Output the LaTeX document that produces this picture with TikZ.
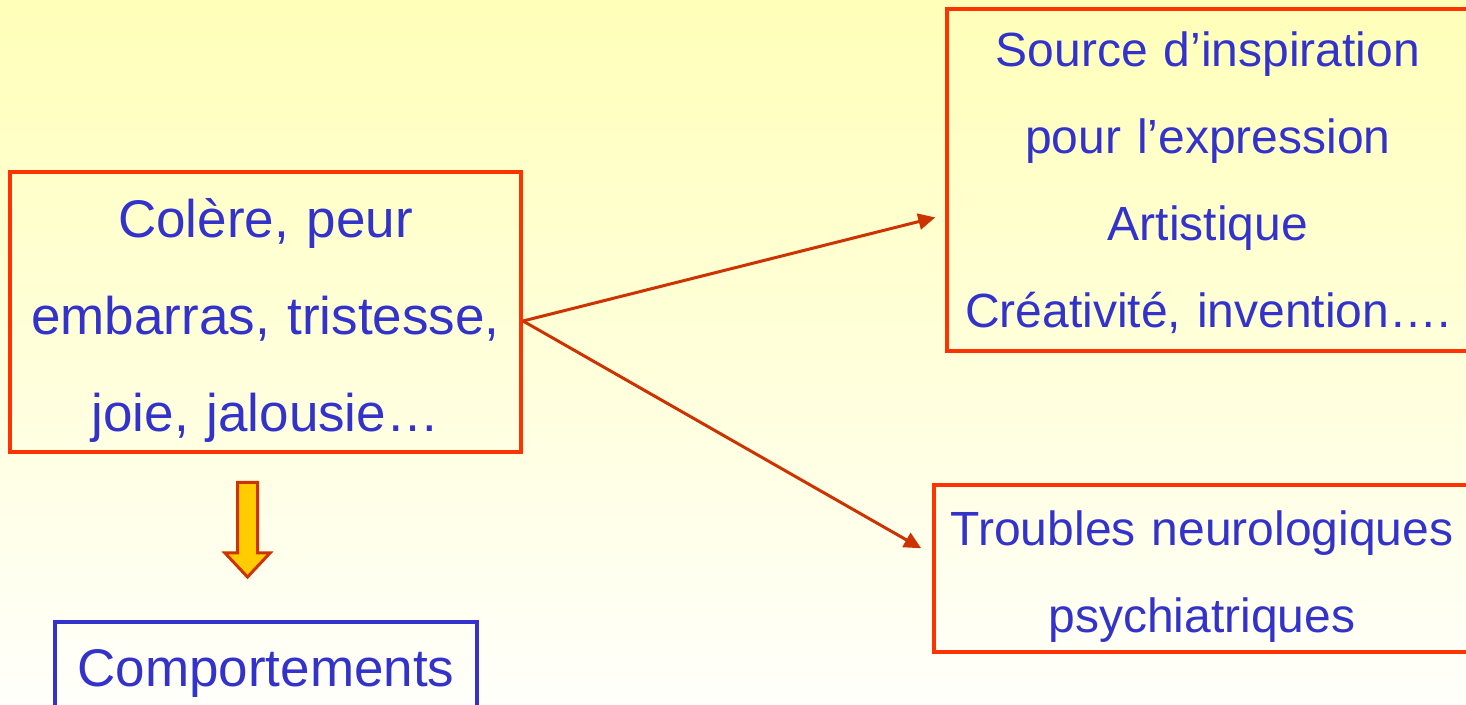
\documentclass[tikz,border=0pt]{standalone}
\usepackage{fontspec}
\setmainfont{Liberation Sans}
\usetikzlibrary{arrows.meta}
\definecolor{boxred}{HTML}{FF3300}
\definecolor{inkblue}{HTML}{3333CC}
\definecolor{arrowred}{HTML}{CC3300}
\definecolor{arrowgold}{HTML}{FFCC00}
\definecolor{bgtop}{HTML}{FFFFB9}
\definecolor{bgbottom}{HTML}{FFFFFB}

\begin{document}
\begin{tikzpicture}[x=1pt,y=1pt,
  framed/.style={line width=4pt, inner xsep=0pt, inner ysep=0pt,
    text=inkblue, align=center},
  redbox/.style={framed, draw=boxred},
  bluebox/.style={framed, draw=inkblue},
  bigtext/.style={font=\fontsize{53}{97}\selectfont},
  midtext/.style={font=\fontsize{48}{87}\selectfont},
  link/.style={draw=arrowred, line width=3pt,
    -{Triangle[length=17pt,width=16pt]}},
  blockarrow/.style={draw=arrowred, fill=arrowgold, line width=3pt,
    line join=miter}]

% page and soft yellow background
\useasboundingbox (0,0) rectangle (1466,704);
\clip (0,0) rectangle (1466,704);
\shade[top color=bgtop, bottom color=bgbottom] (0,0) rectangle (1466,704);

% emotions
\node[redbox, bigtext, text width=511pt, text height=66pt, text depth=214pt]
  (emo) at (265.5,392) {Colère, peur\\embarras, tristesse,\\joie, jalousie…};

% creative outcome
\node[redbox, midtext, text width=522pt, text height=58pt, text depth=284pt]
  (art) at (1208,524)
  {Source d’inspiration\\pour l’expression\\Artistique\\Créativité, invention….};

% pathological outcome
\node[redbox, midtext, text width=536pt, text height=61pt, text depth=106pt]
  (trb) at (1202,135.5) {Troubles neurologiques\\psychiatriques};

% behaviours
\node[bluebox, bigtext, text width=422pt, text height=64pt, text depth=64pt]
  (comp) at (266,18) {Comportements};

% branching connectors
\coordinate (fork) at ([yshift=-9pt]emo.east);
\draw[link, shorten >=10pt] (fork) -- ([yshift=-35pt]art.west);
\draw[link, shorten >=12.5pt] (fork) -- ([yshift=14pt]trb.west);

% downward block arrow
\draw[blockarrow] (237.5,221.5) -- (257.5,221.5) -- (257.5,151) -- (270,151)
  -- (247.5,127) -- (225,151) -- (237.5,151) -- cycle;
\end{tikzpicture}
\end{document}
